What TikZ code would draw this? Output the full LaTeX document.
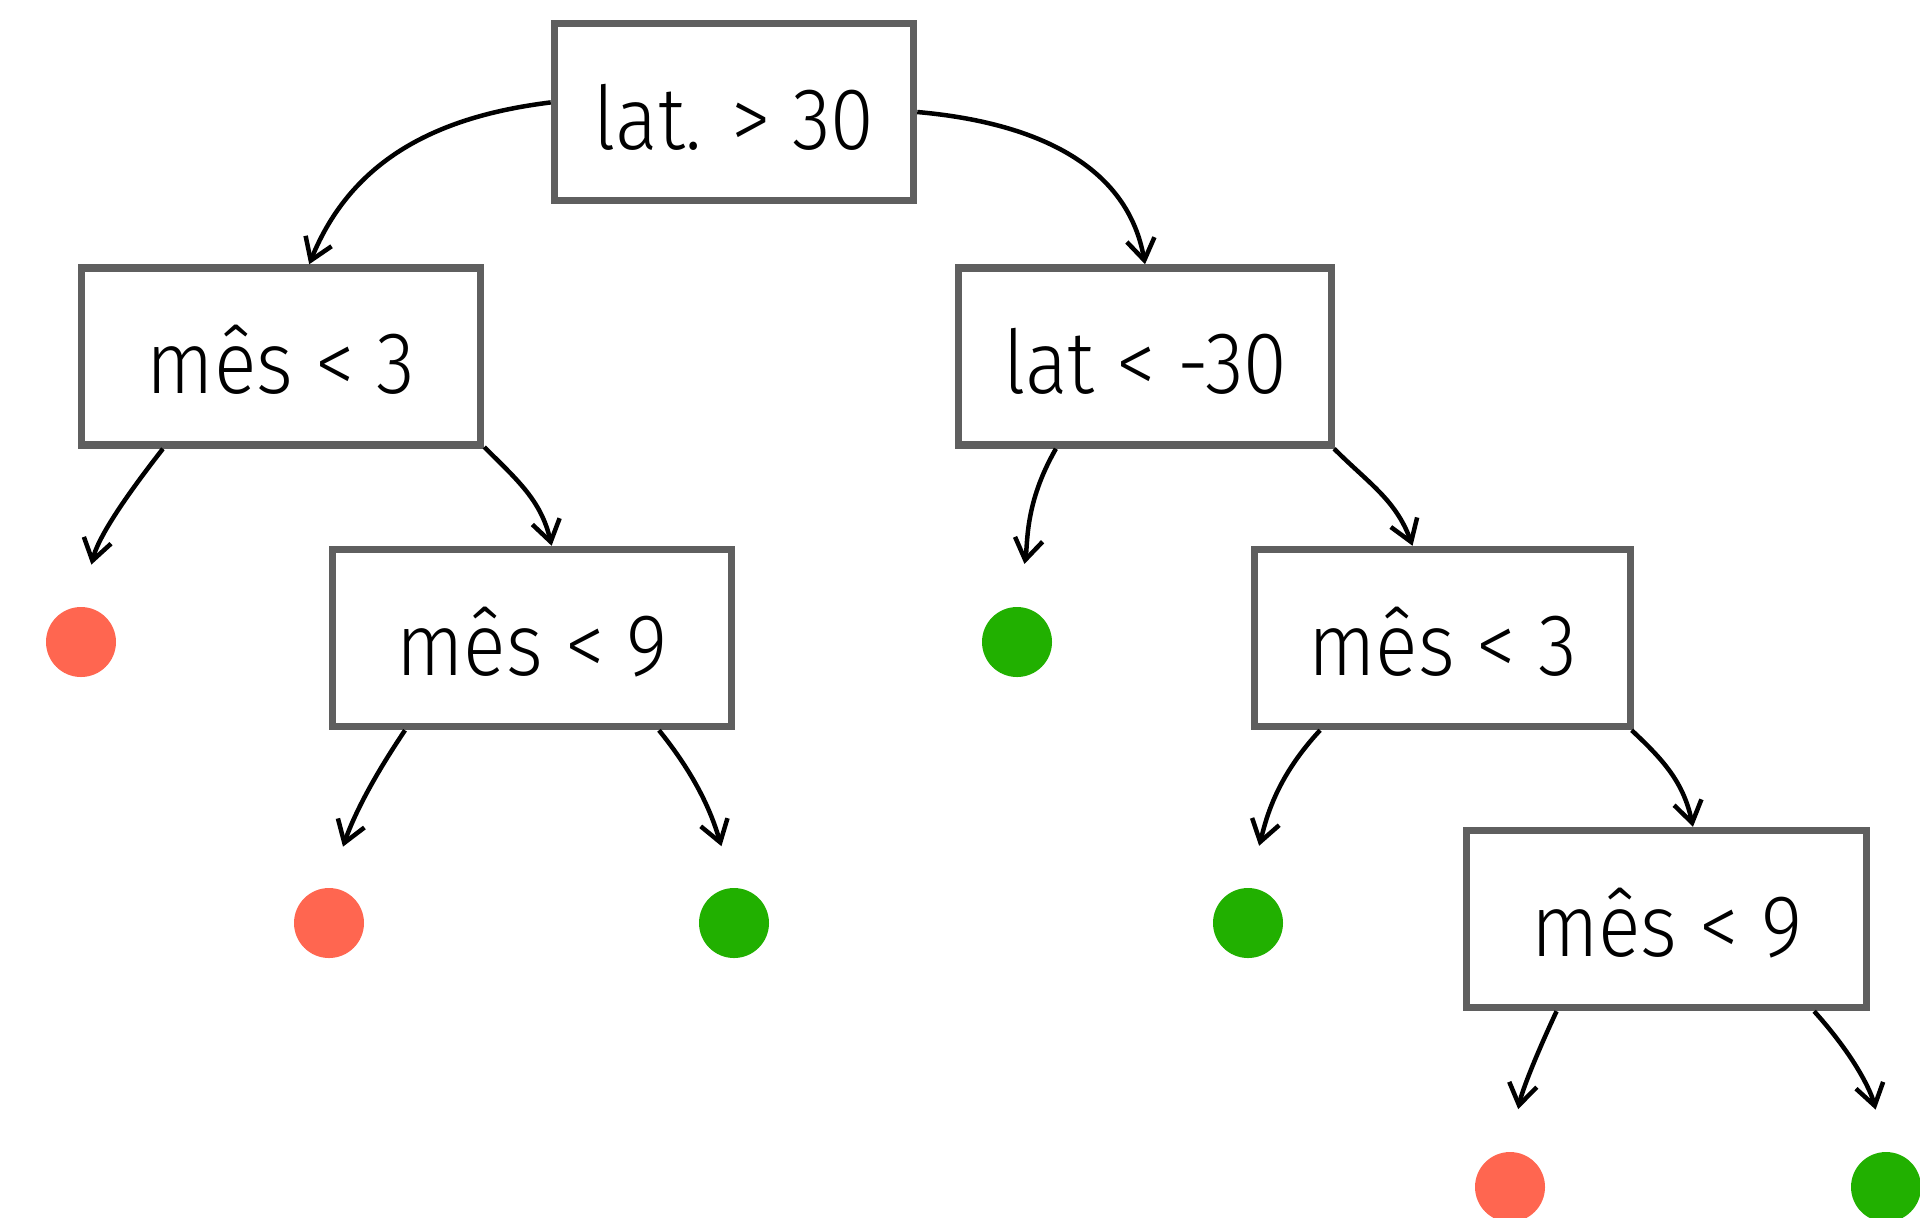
\documentclass[tikz,border=0pt]{standalone}
\usepackage{fontspec}
\setmainfont[FakeStretch=0.9]{Fira Sans Light}
\usetikzlibrary{arrows.meta}
\definecolor{LeafRed}{HTML}{FF6650}
\definecolor{LeafGreen}{HTML}{21B000}
\definecolor{BoxGray}{HTML}{5F5F5F}
\tikzset{
  question/.style={draw=BoxGray,line width=0.075cm,minimum height=1.77cm,inner sep=0pt,
    text height=0.74cm,text depth=0cm,font=\fontsize{25}{28}\selectfont},
  leafdot/.style={circle,inner sep=0pt,minimum size=0.7cm},
  branch/.style={-{Straight Barb[length=0.21cm,width=0.28cm]},line width=0.045cm},
  toleaf/.style={branch,shorten >=0.43cm}
}

\begin{document}
\begin{tikzpicture}
   \useasboundingbox (0,0) rectangle (19.2,-12.17);

   % split nodes
   \node[question,minimum width=3.59cm] (root) at (7.34,-1.12) {lat. > 30};
   \node[question,minimum width=3.99cm] (l1) at (2.81,-3.565) {mês < 3};
   \node[question,minimum width=3.73cm] (lat) at (11.45,-3.565) {lat < -30};
   \node[question,minimum width=3.99cm] (l2) at (5.32,-6.38) {mês < 9};
   \node[question,minimum width=3.76cm] (r2) at (14.425,-6.38) {mês < 3};
   \node[question,minimum width=4.00cm] (r3) at (16.665,-9.19) {mês < 9};

   % leaves
   \node[leafdot,fill=LeafRed] (red1) at (0.81,-6.42) {};
   \node[leafdot,fill=LeafGreen] (green2) at (10.17,-6.42) {};
   \node[leafdot,fill=LeafRed] (red2) at (3.29,-9.23) {};
   \node[leafdot,fill=LeafGreen] (green1) at (7.34,-9.23) {};
   \node[leafdot,fill=LeafGreen] (green3) at (12.48,-9.23) {};
   \node[leafdot,fill=LeafRed] (red3) at (15.10,-11.87) {};
   \node[leafdot,fill=LeafGreen] (green4) at (18.86,-11.87) {};

   % branches
   \draw[branch] (root.177) to[out=187,in=68] (l1.73);
   \draw[branch] (root.east) to[out=-5,in=100] (lat.north);
   \draw[toleaf] (l1.218) to[out=-128,in=76] (red1.north);
   \draw[branch] (l1.336) to[out=-45,in=103] (l2.78);
   \draw[toleaf] (lat.226) to[out=-120,in=80] (green2.north);
   \draw[branch] (lat.334) to[out=-45,in=110] (r2.108);
   \draw[toleaf] (l2.216) to[out=-124,in=71] (red2.north);
   \draw[toleaf] (l2.324) to[out=-51,in=107] (green1.north);
   \draw[toleaf] (r2.217) to[out=-133,in=75] (green3.north);
   \draw[branch] (r2.334) to[out=-43,in=102] (r3.74);
   \draw[toleaf] (r3.220) to[out=-115,in=79] (red3.north);
   \draw[toleaf] (r3.328) to[out=-48,in=104] (green4.north);
\end{tikzpicture}
\end{document}
